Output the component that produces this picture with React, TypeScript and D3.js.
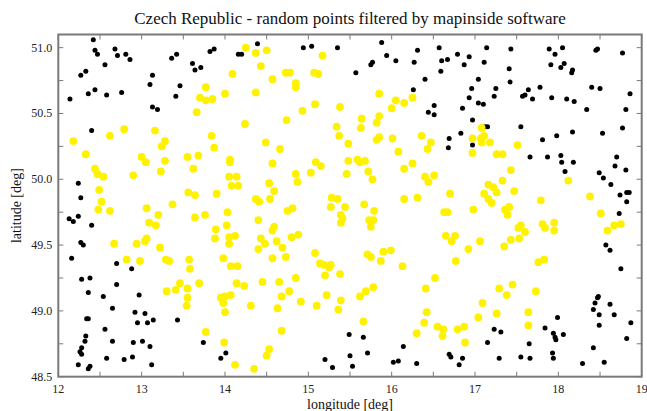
import React from 'react';
import * as d3 from 'd3';

const chartTitle = 'Czech Republic - random points filtered by mapinside software';
const xLabel = 'longitude [deg]';
const yLabel = 'latitude [deg]';

const lonTicks = [12, 12.5, 13, 13.5, 14, 14.5, 15, 15.5, 16, 16.5, 17, 17.5, 18, 18.5, 19];
const lonLabels = [12, 13, 14, 15, 16, 17, 18, 19];
const latTicks = [48.5, 48.75, 49, 49.25, 49.5, 49.75, 50, 50.25, 50.5, 50.75, 51];
const latLabels = [48.5, 49, 49.5, 50, 50.5, 51];

// points rejected (outside the border) - [lon, lat]
const outsidePoints: [number, number][] = [
  [12.42, 51.06], [12.44, 50.98], [12.47, 50.95], [12.68, 50.99], [12.71, 50.94], [12.81, 50.95], [12.86, 50.91], [12.56, 50.87],
  [12.27, 50.79], [12.33, 50.82], [12.36, 50.65], [12.44, 50.68], [12.58, 50.64], [12.76, 50.66], [12.14, 50.61], [13.10, 50.72],
  [13.13, 50.79], [13.13, 50.55], [13.19, 50.53], [13.36, 50.92], [13.42, 50.95], [13.46, 50.71], [13.41, 50.63], [13.61, 50.88],
  [13.64, 50.83], [13.71, 50.85], [13.82, 50.97], [13.87, 50.99], [14.16, 50.95], [14.20, 50.95], [12.40, 50.37],
  [14.39, 51.03], [14.94, 51.00], [15.04, 51.01], [15.35, 51.00], [15.88, 51.04], [15.94, 50.94], [16.05, 50.90], [16.31, 50.98],
  [15.77, 50.89], [15.75, 50.87], [15.57, 50.81], [16.27, 50.89], [16.40, 50.76], [16.26, 50.68], [16.51, 50.56], [16.44, 50.51],
  [16.51, 50.49],
  [16.57, 51.00], [16.60, 50.90], [16.67, 50.91], [16.59, 50.82], [16.79, 50.95], [16.93, 50.93], [16.87, 50.87], [17.14, 51.00],
  [17.11, 50.89], [17.43, 50.99], [17.41, 50.84], [17.42, 50.74], [17.04, 50.76], [16.96, 50.69], [17.25, 50.69], [16.93, 50.62],
  [17.23, 50.63], [17.04, 50.58], [17.10, 50.57], [16.85, 50.54], [16.97, 50.45], [17.12, 50.40], [17.15, 50.40], [16.83, 50.35],
  [16.69, 50.31], [16.68, 50.24], [16.97, 50.26], [17.55, 50.40], [17.64, 50.68], [17.60, 50.64], [17.57, 50.63], [17.69, 50.61],
  [17.78, 50.70], [17.89, 50.99], [17.96, 50.95], [18.05, 51.00], [17.91, 50.87], [18.07, 50.88], [18.03, 50.85], [18.17, 50.83],
  [18.16, 50.81], [17.92, 50.62], [18.10, 50.61], [18.19, 50.59], [18.40, 50.70], [18.50, 50.69], [18.45, 50.98], [18.47, 50.99],
  [18.77, 50.96], [18.86, 50.65], [18.34, 50.53], [18.81, 50.53], [18.17, 50.36], [18.53, 50.35], [18.77, 50.39], [17.98, 50.33],
  [17.81, 50.30],
  [12.24, 49.97], [12.27, 49.86], [12.13, 49.70], [12.18, 49.68], [12.24, 49.72], [12.40, 49.65], [12.27, 49.52], [12.30, 49.50],
  [12.16, 49.40], [12.70, 49.36],
  [17.66, 50.17], [17.87, 50.17], [18.03, 50.18], [18.04, 50.13], [18.18, 50.13], [18.08, 50.06], [18.70, 50.17], [18.68, 50.10],
  [18.81, 50.07], [18.49, 50.05], [18.54, 50.01], [18.63, 49.96], [18.74, 49.88], [18.82, 49.90], [18.85, 49.90], [18.82, 49.83],
  [18.73, 49.74], [18.57, 49.50], [18.62, 49.46], [18.75, 49.32],
  [12.88, 49.32], [12.28, 49.24], [12.38, 49.25], [12.36, 49.14], [12.70, 49.20], [12.54, 49.11], [12.97, 49.12], [12.65, 49.02],
  [12.92, 48.99], [13.04, 48.98], [13.14, 48.93], [12.95, 48.91], [13.07, 48.91], [12.34, 48.94], [12.36, 48.94], [13.43, 48.93],
  [12.56, 48.86], [12.33, 48.81], [12.32, 48.77], [12.65, 48.77], [12.90, 48.76], [13.01, 48.77], [13.10, 48.73], [12.28, 48.72],
  [12.26, 48.69], [12.28, 48.67], [12.58, 48.64], [12.79, 48.63], [12.89, 48.65], [12.24, 48.59], [12.38, 48.58], [12.36, 48.56],
  [13.12, 48.59], [13.74, 48.76], [13.95, 48.64], [14.01, 48.68],
  [15.49, 48.82], [15.66, 48.80], [16.14, 48.73], [15.71, 48.68], [15.50, 48.66], [15.20, 48.63], [15.29, 48.57], [15.53, 48.58],
  [16.02, 48.61], [16.08, 48.62], [16.30, 48.60],
  [16.69, 48.67], [16.71, 48.65], [16.85, 48.64], [16.81, 48.59], [17.15, 48.76], [17.23, 48.86], [17.31, 48.84], [17.29, 48.64],
  [17.55, 48.65], [17.66, 48.64], [17.65, 48.75], [17.84, 48.87], [17.99, 48.95], [17.94, 48.83], [17.96, 48.80], [17.97, 48.78],
  [18.06, 48.82], [17.93, 48.68], [17.94, 48.64], [18.29, 48.60], [18.55, 48.61], [18.42, 48.72], [18.42, 49.01], [18.44, 49.06],
  [18.47, 49.10], [18.48, 49.11], [18.49, 48.97], [18.49, 48.89], [18.62, 49.05], [18.67, 48.97], [18.87, 48.91], [18.82, 48.79],
];

// points accepted (inside the border) - [lon, lat]
const insidePoints: [number, number][] = [
  [14.25, 51.00], [14.09, 50.80], [13.77, 50.70], [13.70, 50.62], [13.77, 50.60], [13.85, 50.61], [14.00, 50.65], [13.66, 50.51],
  [14.24, 50.42], [12.18, 50.29], [12.62, 50.33], [12.79, 50.38], [13.16, 50.37], [13.28, 50.29], [13.24, 50.25], [13.84, 50.33],
  [13.87, 50.24],
  [14.37, 50.96], [14.50, 50.98], [14.43, 50.86], [14.57, 50.76], [14.73, 50.81], [14.78, 50.81], [14.85, 50.73], [14.85, 50.70],
  [15.07, 50.81], [15.12, 50.80], [15.17, 50.94], [14.37, 50.66], [15.08, 50.57], [14.93, 50.52], [14.74, 50.45], [15.38, 50.55],
  [15.34, 50.40], [15.37, 50.33], [15.48, 50.27], [14.49, 50.28], [14.66, 50.23], [15.64, 50.46], [15.63, 50.39], [15.82, 50.43],
  [15.85, 50.48], [15.85, 50.65], [16.00, 50.54], [16.05, 50.60], [16.15, 50.58], [16.25, 50.62], [15.82, 50.30], [15.85, 50.32],
  [16.01, 50.31], [16.08, 50.21], [16.36, 50.33], [16.47, 50.28], [16.43, 50.23],
  [17.08, 50.39], [16.97, 50.31], [17.11, 50.33], [17.07, 50.31], [17.08, 50.28], [17.18, 50.28], [17.51, 50.26],
  [12.33, 50.19], [13.00, 50.17], [13.05, 50.13], [13.55, 50.17], [13.68, 50.18], [14.06, 50.15], [14.06, 50.13], [13.28, 50.14],
  [13.23, 50.06], [13.62, 50.08], [12.90, 50.03], [12.44, 50.08], [12.47, 50.04], [12.54, 50.02], [14.05, 50.02], [14.14, 50.02],
  [14.08, 49.95], [14.16, 49.95], [12.49, 49.92], [12.52, 49.83], [12.48, 49.77], [12.62, 49.76], [13.56, 49.90], [13.64, 49.88],
  [13.90, 49.89], [13.37, 49.81], [13.06, 49.78], [13.20, 49.73], [13.09, 49.67], [13.17, 49.65], [13.64, 49.71], [13.76, 49.73],
  [14.03, 49.75], [14.02, 49.65], [13.89, 49.62], [13.88, 49.55], [14.05, 49.56], [14.12, 49.57], [14.05, 49.51], [12.67, 49.51],
  [12.94, 49.51], [13.04, 49.53], [13.06, 49.55], [13.22, 49.48], [12.82, 49.39], [12.98, 49.38], [13.29, 49.39], [13.33, 49.38],
  [13.57, 49.39], [13.58, 49.32], [13.98, 49.40], [14.07, 49.34], [14.15, 49.34],
  [14.57, 50.12], [15.09, 50.13], [15.15, 50.10], [14.85, 50.04], [14.87, 49.98], [15.03, 50.05], [15.48, 50.14], [15.59, 50.15],
  [15.62, 50.13], [15.68, 50.14], [15.46, 50.04], [15.72, 50.06], [15.77, 50.00], [16.15, 50.08], [16.25, 50.12], [16.40, 50.02],
  [16.44, 49.98], [16.51, 50.03], [14.53, 49.97], [14.59, 49.91], [14.37, 49.85], [14.41, 49.83], [14.54, 49.85], [14.75, 49.76],
  [14.81, 49.78], [14.40, 49.69], [14.59, 49.64], [14.57, 49.61], [14.43, 49.55], [14.48, 49.51], [14.62, 49.53], [14.40, 49.47],
  [14.69, 49.48], [14.80, 49.56], [14.88, 49.58], [14.57, 49.40], [14.73, 49.41], [15.08, 49.44], [15.14, 49.36], [15.19, 49.35],
  [15.27, 49.35], [15.25, 49.33], [15.28, 49.86], [15.35, 49.85], [15.27, 49.79], [15.44, 49.79], [15.39, 49.73], [15.41, 49.70],
  [15.39, 49.67], [15.67, 49.81], [15.79, 49.76], [15.73, 49.69], [15.78, 49.69], [15.75, 49.64], [15.71, 49.43], [15.75, 49.41],
  [15.87, 49.38], [15.90, 49.45], [15.99, 49.46], [16.13, 49.34], [16.15, 49.85], [16.31, 49.86],
  [16.97, 50.20], [17.26, 50.19], [17.33, 50.19], [17.43, 50.07], [17.33, 49.99], [16.70, 49.89], [17.16, 49.96], [17.22, 49.94],
  [17.26, 49.90], [17.11, 49.89], [17.16, 49.85], [17.20, 49.82], [17.47, 49.91], [16.63, 49.75], [16.67, 49.75], [16.98, 49.77],
  [17.36, 49.77], [17.41, 49.79], [17.39, 49.73], [17.79, 49.84], [18.12, 49.99], [18.38, 49.87], [18.51, 49.74], [16.65, 49.57],
  [16.76, 49.57], [16.72, 49.53], [17.06, 49.53], [16.92, 49.47], [16.77, 49.38], [17.52, 49.63], [17.55, 49.65], [17.60, 49.60],
  [17.53, 49.55], [17.43, 49.54], [17.35, 49.49], [17.81, 49.66], [17.84, 49.63], [17.95, 49.67], [17.95, 49.61], [17.76, 49.37],
  [17.83, 49.39], [18.59, 49.61], [18.67, 49.65], [18.75, 49.66],
  [13.30, 49.15], [13.41, 49.16], [13.46, 49.21], [13.55, 49.17], [13.69, 49.21], [13.55, 49.10], [13.54, 49.04], [13.77, 48.84],
  [13.99, 48.76], [14.12, 48.59], [14.14, 49.21], [14.23, 49.19], [13.95, 49.10], [14.00, 49.11], [14.07, 49.12], [13.98, 49.06],
  [14.00, 48.99],
  [15.38, 49.28], [15.20, 49.27], [14.45, 49.22], [14.65, 49.22], [14.85, 49.25], [14.77, 49.15], [14.68, 49.11], [14.91, 49.07],
  [14.31, 49.04], [14.63, 49.02], [15.10, 49.04], [15.22, 49.12], [15.39, 49.08], [15.36, 49.01], [15.62, 49.11], [15.69, 49.15],
  [15.78, 49.18], [15.66, 48.92], [14.68, 48.85], [14.53, 48.71], [14.50, 48.66], [14.35, 48.56], [16.52, 49.25], [16.41, 49.17],
  [16.42, 48.99], [16.39, 48.91], [16.30, 48.83],
  [16.55, 48.88], [16.61, 48.81], [16.62, 48.86], [16.79, 48.86], [16.87, 48.88], [16.88, 48.76], [17.04, 48.95], [17.09, 49.06],
  [17.26, 48.98], [17.29, 49.17], [17.38, 49.12], [17.45, 49.20], [17.73, 49.15], [17.64, 48.99], [17.64, 48.89],
];

const width = 647;
const height = 411;
const margin = { top: 34.5, right: 5.3, bottom: 34.3, left: 58.3 };
const font = '"Liberation Serif", "Times New Roman", serif';

const App = () => {
  const x = d3.scaleLinear().domain([12, 19]).range([margin.left, width - margin.right]);
  const y = d3.scaleLinear().domain([48.5, 51.1]).range([height - margin.bottom, margin.top]);
  const [x0, x1] = x.range();
  const [y0, y1] = y.range();
  const tickLen = 5;
  const axisColor = '#7a7a7a';

  return (
    <svg width={width} height={height} style={{ position: 'absolute', left: 0, top: 0, display: 'block', background: '#fff' }}>
      <text x={(x0 + x1) / 2} y={24} textAnchor="middle" fontFamily={font} fontSize={17} fill="#111">
        {chartTitle}
      </text>

      {/* ticks on all four sides, pointing in */}
      {lonTicks.map((t) => (
        <g key={'xt' + t} stroke={axisColor} strokeWidth={1}>
          <line x1={x(t)} x2={x(t)} y1={y0} y2={y0 - tickLen} />
          <line x1={x(t)} x2={x(t)} y1={y1} y2={y1 + tickLen} />
        </g>
      ))}
      {latTicks.map((t) => (
        <g key={'yt' + t} stroke={axisColor} strokeWidth={1}>
          <line x1={x0} x2={x0 + tickLen} y1={y(t)} y2={y(t)} />
          <line x1={x1} x2={x1 - tickLen} y1={y(t)} y2={y(t)} />
        </g>
      ))}

      {outsidePoints.map((d, i) => (
        <circle key={'o' + i} cx={x(d[0])} cy={y(d[1])} r={2.5} fill="#000" />
      ))}
      {insidePoints.map((d, i) => (
        <circle key={'i' + i} cx={x(d[0])} cy={y(d[1])} r={3.9} fill="#fff200" />
      ))}

      <rect x={x0} y={y1} width={x1 - x0} height={y0 - y1} fill="none" stroke={axisColor} strokeWidth={2} />

      {lonLabels.map((t) => (
        <text key={'xl' + t} x={x(t)} y={393} textAnchor="middle" fontFamily={font} fontSize={12} fill="#222">
          {t}
        </text>
      ))}
      {latLabels.map((t) => (
        <text key={'yl' + t} x={x0 - 6} y={y(t) + 4} textAnchor="end" fontFamily={font} fontSize={12} fill="#222">
          {t.toFixed(1)}
        </text>
      ))}

      <text x={(x0 + x1) / 2} y={409} textAnchor="middle" fontFamily={font} fontSize={14} fill="#111">
        {xLabel}
      </text>
      <text
        transform={`translate(21,${(y0 + y1) / 2}) rotate(-90)`}
        textAnchor="middle"
        fontFamily={font}
        fontSize={14}
        fill="#111"
      >
        {yLabel}
      </text>
    </svg>
  );
};

export default App;
